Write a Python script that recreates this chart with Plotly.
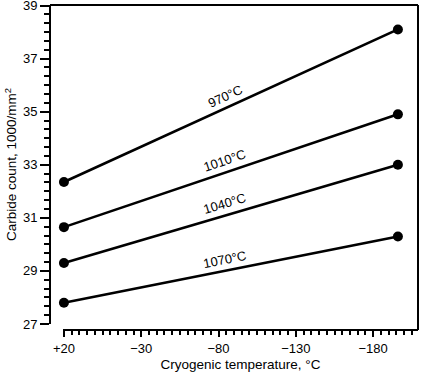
import math
import plotly.graph_objects as go

# ---- data ----
temps = [20, -196]
series_names = ["970°C", "1010°C", "1040°C", "1070°C"]
s970 = [32.35, 38.1]
s1010 = [30.65, 34.9]
s1040 = [29.3, 33.0]
s1070 = [27.8, 30.3]
series_vals = [s970, s1010, s1040, s1070]
x_tickvals = [20, -30, -80, -130, -180]
x_ticktext = ["+20", "\u221230", "\u221280", "\u2212130", "\u2212180"]
y_tickvals = [27, 29, 31, 33, 35, 37, 39]
label_x = -86

# ---- layout constants ----
W, H = 421, 374
ML, MR, MT, MB = 50, 3, 5, 44
x_range = [20.6, -209]
y_range = [27, 39.02]
x_dom = [13 / (W - ML - MR), 1]
y_dom = [6 / (H - MT - MB), 1]

plot_w = (W - ML - MR) * (x_dom[1] - x_dom[0])
plot_h = (H - MT - MB) * (y_dom[1] - y_dom[0])
px_per_x = plot_w / abs(x_range[0] - x_range[1])
px_per_y = plot_h / (y_range[1] - y_range[0])

FONT = "Liberation Sans, Arial, sans-serif"

fig = go.Figure()
for name, vals in zip(series_names, series_vals):
    fig.add_trace(go.Scatter(
        x=temps, y=vals, mode="lines+markers", name=name,
        line=dict(color="black", width=2.6),
        marker=dict(color="black", size=10),
        cliponaxis=False, showlegend=False,
    ))

annotations = []
for name, vals in zip(series_names, series_vals):
    t = (label_x - temps[0]) / (temps[1] - temps[0])
    yv = vals[0] + t * (vals[1] - vals[0])
    dx = abs(temps[1] - temps[0]) * px_per_x
    dy = (vals[1] - vals[0]) * px_per_y
    ang = math.degrees(math.atan2(dy, dx))
    annotations.append(dict(
        x=label_x, y=yv, xref="x", yref="y", text=name, showarrow=False,
        textangle=-ang, yshift=11, xshift=-3,
        font=dict(family=FONT, size=13, color="black"),
    ))

shapes = [
    dict(type="line", xref="paper", yref="paper", x0=0, x1=1, y0=1, y1=1,
         line=dict(color="black", width=2)),
    dict(type="line", xref="paper", yref="paper", x0=1, x1=1, y0=0, y1=1,
         line=dict(color="black", width=2)),
]

fig.update_layout(
    width=W, height=H,
    margin=dict(l=ML, r=MR, t=MT, b=MB, autoexpand=False),
    paper_bgcolor="white", plot_bgcolor="white",
    font=dict(family=FONT, size=13, color="black"),
    annotations=annotations,
    shapes=shapes,
    xaxis=dict(
        domain=x_dom, range=x_range, anchor="free", position=0,
        automargin=False, ticklabeloverflow="allow",
        showgrid=False, zeroline=False,
        showline=True, linecolor="black", linewidth=2,
        tickmode="array", tickvals=x_tickvals, ticktext=x_ticktext,
        ticks="outside", ticklen=6, tickwidth=1.5, tickcolor="black",
        minor=dict(ticks="outside", ticklen=4, tickwidth=1.5, tickcolor="black",
                   dtick=5, tick0=20, showgrid=False),
        tickfont=dict(family=FONT, size=13),
        title=dict(text="Cryogenic temperature, °C", standoff=4,
                   font=dict(family=FONT, size=13.5)),
    ),
    yaxis=dict(
        domain=y_dom, range=y_range, anchor="free", position=0,
        automargin=False, ticklabeloverflow="allow",
        showgrid=False, zeroline=False,
        showline=True, linecolor="black", linewidth=2,
        tickmode="array", tickvals=y_tickvals,
        ticks="outside", ticklen=9, tickwidth=1.5, tickcolor="black",
        minor=dict(ticks="outside", ticklen=5, tickwidth=1.5, tickcolor="black",
                   dtick=1 / 3, tick0=27, showgrid=False),
        tickfont=dict(family=FONT, size=13),
        title=dict(text="Carbide count, 1000/mm<sup>2</sup>", standoff=2,
                   font=dict(family=FONT, size=13.5)),
    ),
)

fig.write_html(
    "out.html",
    config={"displayModeBar": False},
    post_script="document.body.style.margin='0';document.body.style.padding='0';",
)
